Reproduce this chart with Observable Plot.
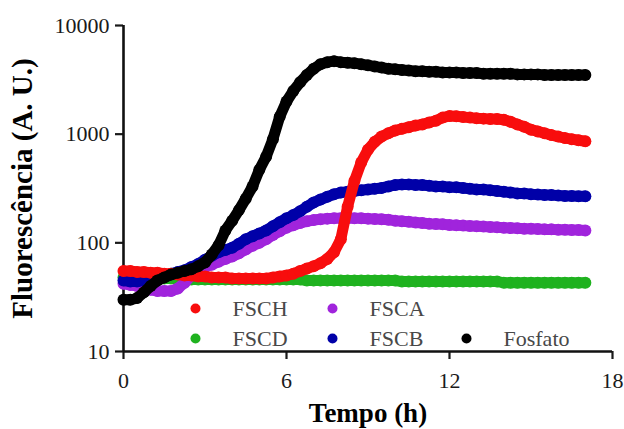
<!DOCTYPE html>
<html><head><meta charset="utf-8">
<script src="https://cdn.jsdelivr.net/npm/d3@7"></script>
<script src="https://cdn.jsdelivr.net/npm/@observablehq/plot@0.6"></script>
<style>
body{margin:0;background:#fff}
#chart svg, #chart svg text {font-family: 'Liberation Serif', 'Times New Roman', serif !important}
#chart svg g[aria-label^="x-axis"] path, #chart svg g[aria-label^="x-axis"] line,
#chart svg g[aria-label^="y-axis"] path, #chart svg g[aria-label^="y-axis"] line {stroke-width:2.2px}
</style>
</head><body><div id="chart"></div>
<script>
const time = [0,0.25,0.5,0.75,1,1.25,1.5,1.75,2,2.25,2.5,2.75,3,3.25,3.5,3.75,4,4.25,4.5,4.75,5,5.25,5.5,5.75,6,6.25,6.5,6.75,7,7.25,7.5,7.75,8,8.25,8.5,8.75,9,9.25,9.5,9.75,10,10.25,10.5,10.75,11,11.25,11.5,11.75,12,12.25,12.5,12.75,13,13.25,13.5,13.75,14,14.25,14.5,14.75,15,15.25,15.5,15.75,16,16.25,16.5,16.75,17];

const fosfato = [30,30,31,35, 40,45,48,51, 53,55,57,61, 66,78,95,130, 160,200,255,330, 470,620,900,1450, 2000,2500,3000,3500, 4000,4400,4600,4700, 4600,4550,4500,4400, 4300,4200,4100,4000, 3950,3900,3850,3800, 3800,3750,3750,3700, 3700,3700,3650,3650, 3650,3600,3600,3600, 3600,3600,3550,3550, 3550,3550,3500,3500, 3500,3500,3500,3500, 3500];
const fsch = [55,55,54,54, 53,53,52,52, 51,50,50,49, 49,48,48,48, 47,47,47,47, 47,47,48,49, 50,52,55,58, 61,65,71,82, 108,215,370,550, 720,850,950,1020, 1080,1120,1160,1200, 1230,1280,1330,1420, 1470,1460,1440,1420, 1400,1390,1380,1380, 1360,1300,1230,1170, 1100,1060,1020,980, 950,920,900,880, 860];
const fscb = [45,44,44,45, 46,48,50,52, 54,56,60,64, 70,76,82,86, 90,98,108,115, 122,130,142,155, 168,180,195,215, 235,250,265,280, 290,295,300,305, 310,315,320,330, 340,345,345,340, 340,335,330,330, 325,325,320,315, 310,310,305,300, 295,290,285,285, 280,278,276,275, 272,270,270,268, 268];
const fsca = [42,41,40,38, 37,36,36,36, 38,43,50,55, 60,63,67,71, 75,80,87,94, 100,108,118,128, 138,145,152,158, 162,165,167,168, 168,168,168,168, 167,166,165,163, 160,158,156,154, 152,150,149,148, 146,145,144,143, 142,141,140,139, 138,137,136,135, 135,134,133,133, 132,132,131,131, 130];
const fscd = [48,48,47,47, 47,47,47,47, 47,46,46,46, 46,46,46,46, 46,46,46,46, 46,46,46,46, 46,46,46,45, 45,45,45,45, 45,45,45,45, 45,45,45,45, 45,44,44,44, 44,44,44,44, 44,44,44,44, 44,44,44,44, 43,43,43,43, 43,43,43,43, 43,43,43,43, 43];

const seriesNames = ["FSCD", "FSCA", "FSCB", "FSCH", "Fosfato"];   // drawing order
const seriesValues = {FSCD: fscd, FSCA: fsca, FSCB: fscb, FSCH: fsch, Fosfato: fosfato};
const colors = {FSCH: "#f80d0d", FSCA: "#a024dc", FSCD: "#1fb21f", FSCB: "#0000a8", Fosfato: "#000000"};
const legendRows = [["FSCH", "FSCA"], ["FSCD", "FSCB", "Fosfato"]];
const xTicks = [0, 6, 12, 18];
const yTicks = [10, 100, 1000, 10000];
const xLabel = "Tempo (h)";
const yLabel = "Fluorescência (A. U.)";

const serif = "'Liberation Serif', 'Times New Roman', serif";

const seriesMarks = seriesNames.flatMap(name => {
  const rows = time.map((t, i) => ({t, v: seriesValues[name][i]}));
  return [
    Plot.line(rows, {x: "t", y: "v", stroke: colors[name], strokeWidth: 11, strokeLinejoin: "round", strokeLinecap: "round"}),
    Plot.dot(rows, {x: "t", y: "v", r: 6, fill: colors[name], stroke: "none"})
  ];
});

const colDx = [72, 209, 343];
const rowDy = [-43, -13];
const legendMarks = legendRows.flatMap((row, ri) => row.flatMap((name, ci) => [
  Plot.dot([name], {frameAnchor: "bottom-left", dx: colDx[ci], dy: rowDy[ri], r: 5, fill: colors[name], stroke: "none"}),
  Plot.text([name], {text: d => d, frameAnchor: "bottom-left", dx: colDx[ci] + 37, dy: rowDy[ri], textAnchor: "start", lineAnchor: "middle", fontSize: 22, fill: "#484848", fontFamily: serif})
]));

const chart = Plot.plot({
  width: 624, height: 429,
  marginLeft: 123, marginRight: 12, marginTop: 25, marginBottom: 78,
  style: {fontFamily: serif, fontSize: "22px", color: "#1a1a1a", background: "#fff", overflow: "visible"},
  x: {domain: [0, 18], ticks: xTicks, tickSize: 8, tickPadding: 13, label: null, tickFormat: d => String(d)},
  y: {type: "log", domain: [10, 10000], ticks: yTicks, tickSize: 8, tickPadding: 6, label: null, tickFormat: d => String(d)},
  marks: [
    Plot.ruleY([10], {stroke: "#111", strokeWidth: 2.6}),
    Plot.ruleX([0], {stroke: "#111", strokeWidth: 2.6}),
    ...seriesMarks,
    ...legendMarks,
    Plot.text([xLabel], {text: d => d, frameAnchor: "bottom", dy: 62, textAnchor: "middle", lineAnchor: "middle", fontSize: 27, fontWeight: "bold", fill: "#000", fontFamily: serif}),
    Plot.text([yLabel], {text: d => d, frameAnchor: "left", dx: -101, rotate: -90, textAnchor: "middle", lineAnchor: "middle", fontSize: 29, fontWeight: "bold", fill: "#000", fontFamily: serif})
  ]
});
document.getElementById("chart").appendChild(chart);
</script>
</body></html>
